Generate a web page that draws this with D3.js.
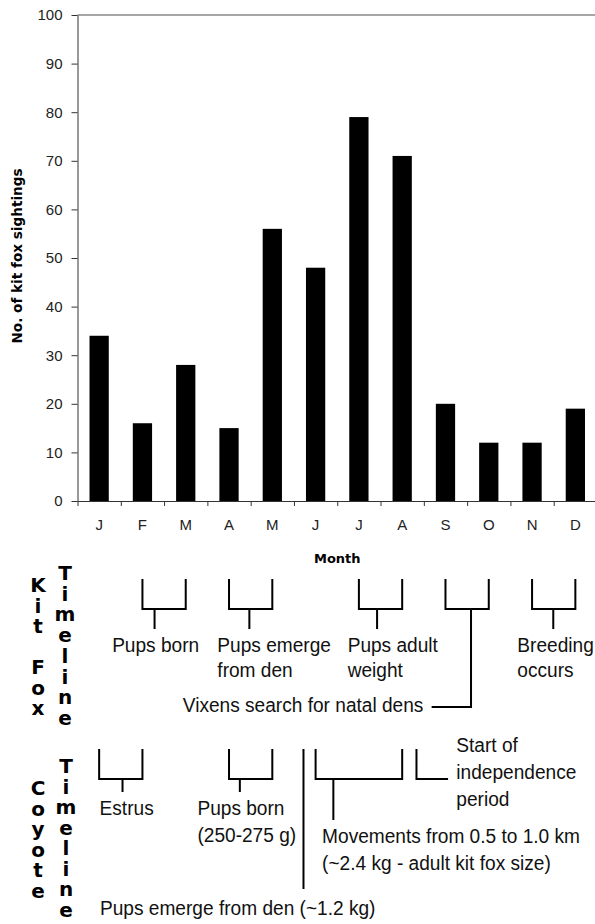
<!DOCTYPE html>
<html>
<head>
<meta charset="utf-8">
<script src="https://cdn.jsdelivr.net/npm/d3@7"></script>
<style>
  body { margin: 0; background: #fff; }
  svg { display: block; }
</style>
</head>
<body>
<div id="chart"></div>
<script>
var months = ["J", "F", "M", "A", "M", "J", "J", "A", "S", "O", "N", "D"];
var sightings = [34, 16, 28, 15, 56, 48, 79, 71, 20, 12, 12, 19];
var yTicks = [0, 10, 20, 30, 40, 50, 60, 70, 80, 90, 100];

// timeline events, in months counted from the start of January (0) to the end of December (12)
// row = which text row of the timeline the label sits on
var kitFoxEvents = [
  { text: ["Pups born"], from: 1.5, to: 2.5, stem: 1.78, textAt: 0.8, row: 0 },
  { text: ["Pups emerge", "from den"], from: 3.5, to: 4.5, stem: 3.97, textAt: 3.23, row: 0 },
  { text: ["Pups adult", "weight"], from: 6.5, to: 7.5, stem: 6.92, textAt: 6.24, row: 0 },
  { text: ["Vixens search for natal dens"], from: 8.5, to: 9.5, stem: 9.09, tail: 8.18, textAt: 7.99, anchor: "end", row: 1 },
  { text: ["Breeding", "occurs"], from: 10.5, to: 11.5, stem: 10.99, textAt: 10.16, row: 0 }
];

var coyoteEvents = [
  { text: ["Estrus"], from: 0.5, to: 1.5, stem: 1.04, textAt: 0.51, row: 1 },
  { text: ["Pups born", "(250-275 g)"], from: 3.5, to: 4.5, stem: 3.75, textAt: 2.77, row: 1 },
  { text: ["Pups emerge from den (~1.2 kg)"], from: 5.22, to: 5.22, textAt: 0.52, row: 3 },
  { text: ["Movements from 0.5 to 1.0 km", "(~2.4 kg - adult kit fox size)"], from: 5.5, to: 7.5, stem: 5.91, textAt: 5.65, row: 2 },
  { text: ["Start of", "independence", "period"], from: 7.83, to: 8.56, textAt: 8.75, row: 0 }
];

(function() {
  var width = 595, height = 924;
  var plot = { left: 77.5, right: 597, top: 15, bottom: 501 };
  var sans = "'Liberation Sans', Arial, sans-serif";
  var bold = "'DejaVu Sans', Verdana, sans-serif";

  var svg = d3.select("#chart")
      .append("svg")
      .attr("width", width)
      .attr("height", height);

  var x = d3.scaleBand()
      .domain(d3.range(months.length))
      .range([plot.left, plot.right])
      .paddingInner(0.555)
      .paddingOuter(0.2775);

  // continuous month position, used for the tick marks and the timelines
  var monthScale = d3.scaleLinear()
      .domain([0, 12])
      .range([plot.left, plot.right]);

  var y = d3.scaleLinear()
      .domain([0, 100])
      .range([plot.bottom, plot.top]);

  // top edge of the plot area
  svg.append("line")
      .attr("x1", plot.left)
      .attr("x2", plot.right)
      .attr("y1", y(100))
      .attr("y2", y(100))
      .attr("stroke", "#888")
      .attr("stroke-width", 1.5);

  svg.selectAll(".bar")
      .data(sightings)
      .enter().append("rect")
      .attr("class", "bar")
      .attr("x", function(d, i) { return x(i) })
      .attr("y", function(d) { return y(d) })
      .attr("width", x.bandwidth())
      .attr("height", function(d) { return y(0) - y(d) })
      .attr("fill", "#000");

  var yAxis = svg.append("g")
      .attr("transform", "translate(" + plot.left + ",0)")
      .call(d3.axisLeft(y).tickValues(yTicks).tickSize(6).tickSizeOuter(0).tickPadding(9))
      .attr("font-family", sans)
      .attr("font-size", 15);
  yAxis.selectAll("line, path").attr("stroke", "#333");
  yAxis.selectAll("text").attr("fill", "#222");

  var xTicks = svg.append("g")
      .attr("transform", "translate(0," + plot.bottom + ")")
      .call(d3.axisBottom(monthScale).tickValues(d3.range(0, 13)).tickSize(5).tickSizeOuter(0).tickFormat(""));
  xTicks.selectAll("line, path").attr("stroke", "#333");

  var xLabels = svg.append("g")
      .attr("transform", "translate(0," + plot.bottom + ")")
      .call(d3.axisBottom(x).tickSize(0).tickPadding(18).tickFormat(function(i) { return months[i] }))
      .attr("font-family", sans)
      .attr("font-size", 15);
  xLabels.select(".domain").remove();
  xLabels.selectAll("text").attr("fill", "#222");

  svg.append("text")
      .text("No. of kit fox sightings")
      .attr("transform", "translate(17,256) rotate(-90)")
      .attr("dy", "0.35em")
      .attr("text-anchor", "middle")
      .attr("font-family", bold)
      .attr("font-weight", "bold")
      .attr("font-size", 13.6)
      .attr("fill", "#000");

  svg.append("text")
      .text("Month")
      .attr("x", (plot.left + plot.right) / 2)
      .attr("y", 563)
      .attr("text-anchor", "middle")
      .attr("font-family", bold)
      .attr("font-weight", "bold")
      .attr("font-size", 13)
      .attr("fill", "#000");

  function stackLetters(word, cx, firstY, pitch) {
    svg.append("g")
        .selectAll("text")
        .data(word.split(""))
        .enter().append("text")
        .text(function(d) { return d })
        .attr("x", cx)
        .attr("y", function(d, i) { return firstY + i * pitch })
        .attr("text-anchor", "middle")
        .attr("font-family", bold)
        .attr("font-weight", "bold")
        .attr("font-size", 20)
        .attr("fill", "#000");
  }

  function drawTimeline(events, opt) {
    var top = opt.top, mid = opt.top + 30;
    var g = svg.append("g");

    events.forEach(function(e) {
      var labelY = opt.rows[e.row];
      var path = d3.path();
      if (e.stem != null) {
        path.moveTo(monthScale(e.from), top);
        path.lineTo(monthScale(e.from), mid);
        path.lineTo(monthScale(e.to), mid);
        path.lineTo(monthScale(e.to), top);
        var stemEnd = e.tail != null ? labelY - 5 : labelY - 23;
        path.moveTo(monthScale(e.stem), mid);
        path.lineTo(monthScale(e.stem), stemEnd);
        if (e.tail != null) path.lineTo(monthScale(e.tail), stemEnd);
      } else if (e.from === e.to) {
        path.moveTo(monthScale(e.from), top);
        path.lineTo(monthScale(e.from), labelY - 26);
      } else {
        path.moveTo(monthScale(e.from), top);
        path.lineTo(monthScale(e.from), mid);
        path.lineTo(monthScale(e.to), mid);
      }
      g.append("path")
          .attr("d", path.toString())
          .attr("fill", "none")
          .attr("stroke", "#000")
          .attr("stroke-width", 2);

      e.text.forEach(function(line, i) {
        g.append("text")
            .text(line)
            .attr("transform", "translate(" + monthScale(e.textAt) + "," + (labelY + i * opt.lineHeight) + ") scale(0.91,1)")
            .attr("text-anchor", e.anchor || "start")
            .attr("font-family", sans)
            .attr("font-size", 21)
            .attr("fill", "#111");
      });
    });
  }

  // Kit fox timeline
  stackLetters("Kit Fox", 38, 592, 20.5);
  stackLetters("Timeline", 65, 580, 20.7);
  drawTimeline(kitFoxEvents, { top: 579, rows: [652, 712], lineHeight: 25 });

  // Coyote timeline
  stackLetters("Coyote", 38, 795, 20.5);
  stackLetters("Timeline", 66, 773, 20.5);
  drawTimeline(coyoteEvents, { top: 749, rows: [752, 815, 843, 915], lineHeight: 27 });
})();
</script>
</body>
</html>
